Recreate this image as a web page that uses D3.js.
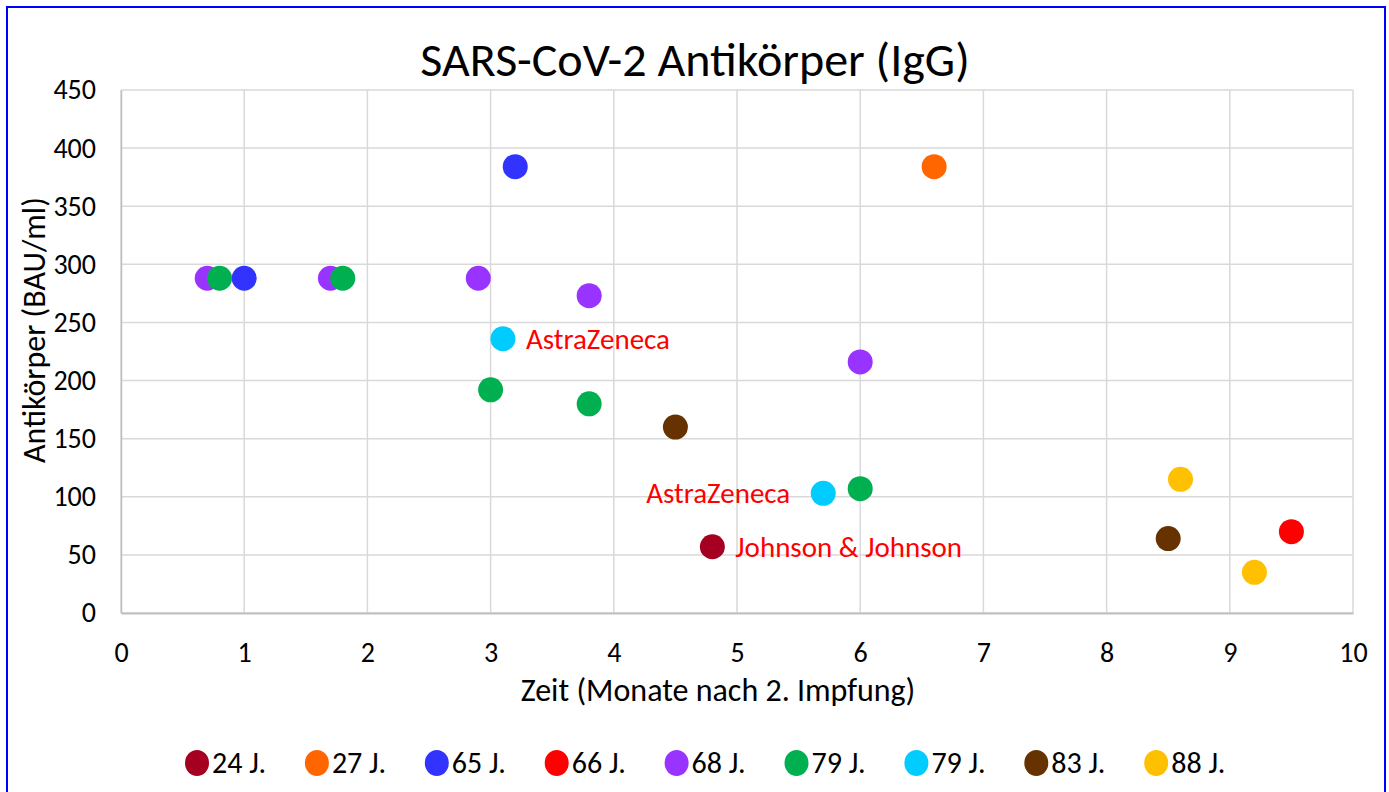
<!DOCTYPE html>
<html>
<head>
<meta charset="utf-8">
<script src="https://cdn.jsdelivr.net/npm/d3@7"></script>
<style>
  body { margin: 0; background: #fff; }
  svg text { font-family: Carlito, Calibri, Lato, sans-serif; fill: #000; }
</style>
</head>
<body>
<svg id="chart" width="1389" height="792"></svg>
<script>
// data
var serien = ['24 J.', '27 J.', '65 J.', '66 J.', '68 J.', '79 J.', '79 J.', '83 J.', '88 J.'];
var farben = ['#a50021', '#ff6600', '#3333ff', '#ff0000', '#9933ff', '#00b050', '#00ccff', '#663300', '#ffc000'];
var monate = [[4.8], [6.6], [1.0, 3.2], [9.5], [0.7, 1.7, 2.9, 3.8, 6.0], [0.8, 1.8, 3.0, 3.8, 6.0], [3.1, 5.7], [4.5, 8.5], [8.6, 9.2]];
var antikoerper = [[57], [384], [288, 384], [70], [288, 288, 288, 273, 216], [288, 288, 192, 180, 107], [236, 103], [160, 64], [115, 35]];
var xTicks = [0, 1, 2, 3, 4, 5, 6, 7, 8, 9, 10];
var yTicks = [0, 50, 100, 150, 200, 250, 300, 350, 400, 450];
// labels next to single points: series index, point index, side
var hinweise = [
  { text: 'AstraZeneca', serie: 6, punkt: 0, seite: 'rechts' },
  { text: 'AstraZeneca', serie: 6, punkt: 1, seite: 'links' },
  { text: 'Johnson & Johnson', serie: 0, punkt: 0, seite: 'rechts' }
];

var svg = d3.select('#chart');
var plotLeft = 121, plotRight = 1353, plotTop = 90, plotBottom = 613;

var x = d3.scaleLinear().domain([0, 10]).range([plotLeft, plotRight]);
var y = d3.scaleLinear().domain([0, 450]).range([plotBottom, plotTop]);

// outer frame
svg.append('rect')
  .attr('x', 7).attr('y', 7)
  .attr('width', 1378).attr('height', 800)
  .attr('fill', 'none')
  .attr('stroke', '#0000ff')
  .attr('stroke-width', 2);

// title
svg.append('text')
  .attr('x', 695).attr('y', 76)
  .attr('text-anchor', 'middle')
  .style('font-size', '48px')
  .text('SARS-CoV-2 Antikörper (IgG)');

// grid
var grid = svg.append('g');
grid.selectAll('.vline')
  .data(xTicks)
  .enter().append('line')
  .attr('x1', function(d) { return x(d); })
  .attr('x2', function(d) { return x(d); })
  .attr('y1', plotTop).attr('y2', plotBottom)
  .attr('stroke', '#d9d9d9')
  .attr('stroke-width', 1.5);
grid.selectAll('.hline')
  .data(yTicks)
  .enter().append('line')
  .attr('x1', plotLeft).attr('x2', plotRight)
  .attr('y1', function(d) { return y(d); })
  .attr('y2', function(d) { return y(d); })
  .attr('stroke', '#d9d9d9')
  .attr('stroke-width', 1.5);

// axes
var xAxis = svg.append('g')
  .attr('transform', 'translate(0,' + plotBottom + ')')
  .call(d3.axisBottom(x).tickValues(xTicks).tickSize(0).tickPadding(29).tickFormat(d3.format('d')));
var yAxis = svg.append('g')
  .attr('transform', 'translate(' + plotLeft + ',0)')
  .call(d3.axisLeft(y).tickValues(yTicks).tickSize(0).tickPadding(25).tickFormat(d3.format('d')));
xAxis.select('.domain').attr('stroke', '#bfbfbf').attr('stroke-width', 2);
yAxis.select('.domain').attr('stroke', '#bfbfbf').attr('stroke-width', 1.5);
svg.selectAll('.tick text').style('font-size', '28px').attr('fill', '#000');

// axis titles
svg.append('text')
  .attr('x', 718).attr('y', 701)
  .attr('text-anchor', 'middle')
  .style('font-size', '32px')
  .text('Zeit (Monate nach 2. Impfung)');
svg.append('text')
  .attr('transform', 'translate(45,330) rotate(-90)')
  .attr('text-anchor', 'middle')
  .style('font-size', '32px')
  .text('Antikörper (BAU/ml)');

// points
var punkte = svg.append('g');
serien.forEach(function(name, i) {
  var werte = monate[i].map(function(m, j) { return [m, antikoerper[i][j]]; });
  punkte.selectAll('.s' + i)
    .data(werte)
    .enter().append('circle')
    .attr('class', 's' + i)
    .attr('cx', function(d) { return x(d[0]); })
    .attr('cy', function(d) { return y(d[1]); })
    .attr('r', 12.5)
    .attr('fill', farben[i]);
});

// annotations
svg.selectAll('.hinweis')
  .data(hinweise)
  .enter().append('text')
  .attr('class', 'hinweis')
  .attr('x', function(d) {
    var px = x(monate[d.serie][d.punkt]);
    return d.seite === 'rechts' ? px + 23 : px - 33;
  })
  .attr('y', function(d) { return y(antikoerper[d.serie][d.punkt]) + 10; })
  .attr('text-anchor', function(d) { return d.seite === 'rechts' ? 'start' : 'end'; })
  .style('font-size', '29px')
  .style('fill', '#ff0000')
  .text(function(d) { return d.text; });

// legend
var legende = svg.append('g');
var eintrag = legende.selectAll('.eintrag')
  .data(serien)
  .enter().append('g')
  .attr('class', 'eintrag')
  .attr('transform', function(d, i) { return 'translate(' + (197 + i * 119.9) + ',763)'; });
eintrag.append('ellipse')
  .attr('rx', 12).attr('ry', 13)
  .attr('fill', function(d, i) { return farben[i]; });
eintrag.append('text')
  .attr('x', 15).attr('y', 10)
  .style('font-size', '30px')
  .text(function(d) { return d; });
</script>
</body>
</html>
